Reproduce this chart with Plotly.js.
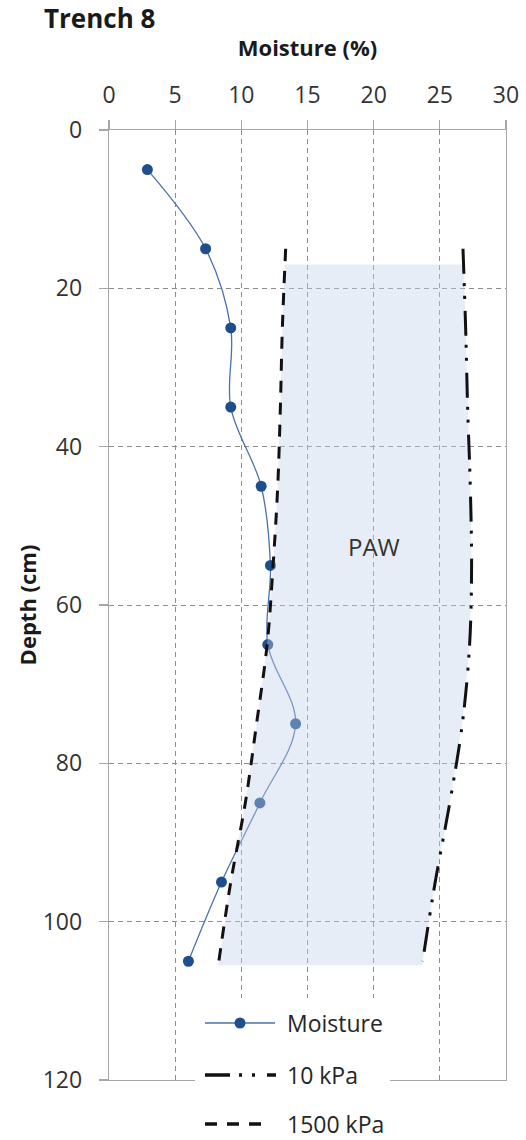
<!DOCTYPE html>
<html>
<head>
<meta charset="utf-8">
<script src="https://cdn.plot.ly/plotly-3.0.1.min.js"></script>
<style>html,body{margin:0;padding:0;background:#fff;}#chart{width:526px;height:1140px;}</style>
</head>
<body>
<div id="chart"></div>
<script>
// ---- data ----
var depthMoist = [5, 15, 25, 35, 45, 55, 65, 75, 85, 95, 105];
var moisture   = [2.9, 7.3, 9.2, 9.2, 11.5, 12.2, 12.0, 14.1, 11.4, 8.5, 6.0];

var depthKpa = [15, 25, 35, 45, 55, 65, 75, 85, 95, 105];
var kpa10    = [26.75, 26.95, 27.1, 27.3, 27.4, 27.25, 26.7, 25.75, 24.65, 23.7];
var kpa1500  = [13.35, 13.1, 12.95, 12.75, 12.4, 11.95, 11.15, 10.3, 9.2, 8.3];

var pawDepth = [17, 25, 35, 45, 55, 65, 75, 85, 95, 105.5];
var pawLeft  = [13.3, 13.1, 12.95, 12.75, 12.4, 11.95, 11.15, 10.3, 9.2, 8.25];
var pawRight = [26.8, 26.95, 27.1, 27.3, 27.4, 27.25, 26.7, 25.75, 24.65, 23.65];

var xTicks = [0, 5, 10, 15, 20, 25, 30];
var yTicks = [0, 20, 40, 60, 80, 100, 120];
var legendNames = ['Moisture', '10 kPa', '1500 kPa'];

// ---- styling ----
var FONT = '"Open Sans", "Noto Sans", "Liberation Sans", sans-serif';
var dash10 = '25px,9px,3px,10px,3px,12px';
var dash1500 = '12px,10px';
var moistLine = '#4a72aa', moistMarker = '#1f4e8c';

var traces = [
  {
    type: 'scatter', mode: 'lines+markers', name: legendNames[0],
    x: moisture, y: depthMoist,
    line: {color: moistLine, width: 1.3, shape: 'spline', smoothing: 1},
    marker: {size: 11, color: moistMarker},
    showlegend: false
  },
  {
    type: 'scatter', mode: 'lines', name: 'PAW',
    x: pawLeft.concat(pawRight.slice().reverse()),
    y: pawDepth.concat(pawDepth.slice().reverse()),
    fill: 'toself', fillcolor: 'rgba(196,210,234,0.40)',
    line: {width: 0}, hoverinfo: 'skip', showlegend: false
  },
  {
    type: 'scatter', mode: 'lines', name: legendNames[1],
    x: kpa10, y: depthKpa,
    line: {color: '#111', width: 3, dash: dash10, shape: 'spline', smoothing: 1},
    showlegend: false
  },
  {
    type: 'scatter', mode: 'lines', name: legendNames[2],
    x: kpa1500, y: depthKpa,
    line: {color: '#111', width: 3, dash: dash1500, shape: 'spline', smoothing: 1},
    showlegend: false
  }
];

// plot area in pixels (for placing the hand-built legend)
var L = 109, R = 506, T = 130, B = 1080;
function px(v) { return (v - L) / (R - L); }
function py(v) { return (B - v) / (B - T); }

var legY = [1023, 1075, 1124];
var shapes = [
  {type: 'rect', xref: 'paper', yref: 'paper', x0: px(195), x1: px(390), y0: py(1150), y1: py(998),
   fillcolor: '#ffffff', line: {width: 0}, layer: 'above'},
  {type: 'line', xref: 'paper', yref: 'paper', x0: px(205), x1: px(275), y0: py(legY[0]), y1: py(legY[0]),
   line: {color: moistLine, width: 1.3}, layer: 'above'},
  {type: 'circle', xref: 'paper', yref: 'paper', x0: px(234.5), x1: px(245.5), y0: py(legY[0] + 5.5), y1: py(legY[0] - 5.5),
   fillcolor: moistMarker, line: {width: 0}, layer: 'above'},
  {type: 'line', xref: 'paper', yref: 'paper', x0: px(205), x1: px(276), y0: py(legY[1]), y1: py(legY[1]),
   line: {color: '#111', width: 3.5, dash: dash10}, layer: 'above'},
  {type: 'line', xref: 'paper', yref: 'paper', x0: px(205), x1: px(263), y0: py(legY[2]), y1: py(legY[2]),
   line: {color: '#111', width: 3.5, dash: dash1500}, layer: 'above'}
];

var annotations = [
  {x: 20, y: 52.6, xref: 'x', yref: 'y', text: 'PAW', showarrow: false,
   font: {family: FONT, size: 24, color: '#333'}}
];
legendNames.forEach(function (n, i) {
  annotations.push({x: px(285), y: py(legY[i]), xref: 'paper', yref: 'paper', xanchor: 'left', yanchor: 'middle',
    text: n, showarrow: false, font: {family: FONT, size: 23, color: '#262626'}});
});

var axisCommon = {
  showline: true, linecolor: '#a6a6a6', linewidth: 1.3, mirror: true,
  ticks: 'outside', ticklen: 9, tickcolor: '#a6a6a6', tickwidth: 1.3,
  showgrid: true, gridcolor: '#8c8c8c', gridwidth: 1, griddash: '5px,4px',
  zeroline: false, tickfont: {family: FONT, size: 23, color: '#333'}
};

var layout = {
  width: 526, height: 1140,
  margin: {l: L, r: 526 - R, t: T, b: 1140 - B, pad: 0},
  paper_bgcolor: '#fff', plot_bgcolor: '#fff',
  showlegend: false,
  font: {family: FONT, color: '#262626'},
  title: {text: '<b>Trench 8</b>', xref: 'container', yref: 'container', x: 44 / 526, xanchor: 'left',
          y: 1 - 19 / 1140, yanchor: 'middle', font: {family: FONT, size: 26, color: '#1a1a1a'}},
  xaxis: Object.assign({}, axisCommon, {
    side: 'top', range: [0, 30], autorange: false, tickvals: xTicks, ticktext: xTicks.map(String),
    ticklabelstandoff: 8,
    title: {text: '<b>Moisture (%)</b>', font: {family: FONT, size: 22, color: '#1a1a1a'}, standoff: 14}
  }),
  yaxis: Object.assign({}, axisCommon, {
    range: [120, 0], autorange: false, tickvals: yTicks, ticktext: yTicks.map(String),
    ticklabelstandoff: 12,
    title: {text: '<b>Depth (cm)</b>', font: {family: FONT, size: 22, color: '#1a1a1a'}, standoff: 0}
  }),
  shapes: shapes,
  annotations: annotations
};

Plotly.newPlot('chart', traces, layout, {displayModeBar: false, staticPlot: true});
</script>
</body>
</html>
